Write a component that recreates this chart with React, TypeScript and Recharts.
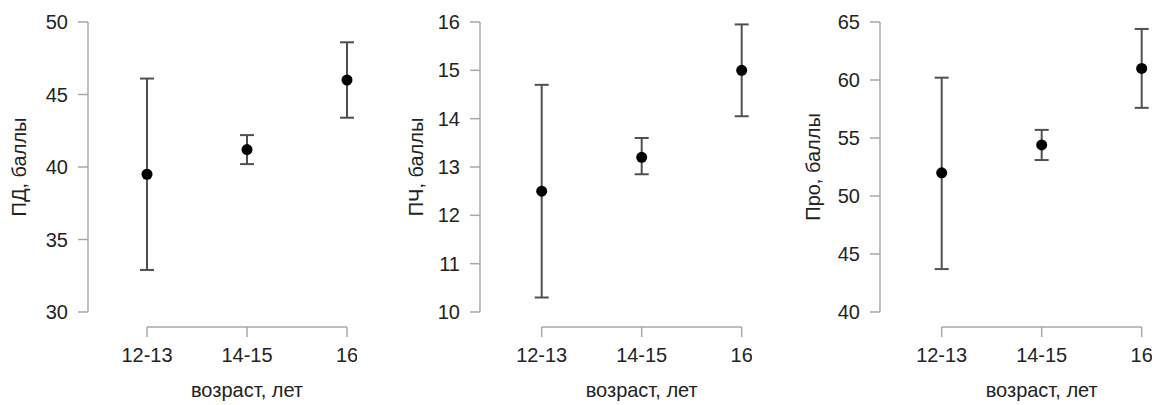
import React from 'react';
import { ScatterChart, Scatter, XAxis, YAxis, ErrorBar, ReferenceLine } from 'recharts';

const ageGroups = ['12-13', '14-15', '16'];
const xTitle = 'возраст, лет';

// ПД
const pdMean = [39.5, 41.2, 46.0];
const pdLow = [32.9, 40.2, 43.4];
const pdHigh = [46.1, 42.2, 48.6];
const pdTicks = [30, 35, 40, 45, 50];

// ПЧ
const pchMean = [12.5, 13.2, 15.0];
const pchLow = [10.3, 12.85, 14.05];
const pchHigh = [14.7, 13.6, 15.95];
const pchTicks = [10, 11, 12, 13, 14, 15, 16];

// Про
const proMean = [52.0, 54.4, 61.0];
const proLow = [43.7, 53.1, 57.6];
const proHigh = [60.2, 55.7, 64.4];
const proTicks = [40, 45, 50, 55, 60, 65];

const FONT = '"Liberation Sans", Arial, sans-serif';
const TEXT = '#222';
const AXIS = '#a8a8a8';
const BAR = '#505050';

const HEIGHT = 405;
const PLOT_TOP = 22;
const PLOT_BOTTOM = 312;
const PX_PER_CAT = 100;
const X_MAX = 2.1;

interface PanelProps {
  left: number;
  axisWidth: number;
  xMin: number;
  titleX: number;
  title: string;
  mean: number[];
  low: number[];
  high: number[];
  ticks: number[];
}

const XTick = (props: any) => {
  const { x, y, payload } = props;
  return (
    <g>
      <line x1={x} x2={x} y1={y + 15} y2={y + 25} stroke={AXIS} strokeWidth={1.5} />
      <text x={x} y={y + 50} textAnchor="middle" fill={TEXT} fontSize={20} fontFamily={FONT}>
        {ageGroups[payload.value]}
      </text>
    </g>
  );
};

const Dot = (props: any) => <circle cx={props.cx} cy={props.cy} r={5.5} fill="#000" />;

const Panel: React.FC<PanelProps> = ({ left, axisWidth, xMin, titleX, title, mean, low, high, ticks }) => {
  const data = ageGroups.map((g, i) => ({
    x: i,
    y: mean[i],
    err: [mean[i] - low[i], high[i] - mean[i]],
  }));
  const yMin = ticks[0];
  const yMax = ticks[ticks.length - 1];
  const width = axisWidth + PX_PER_CAT * (X_MAX - xMin);
  // R draws the x axis a little below the plot region
  const axisY = yMin - ((yMax - yMin) * 15) / (PLOT_BOTTOM - PLOT_TOP);
  const midY = (PLOT_TOP + PLOT_BOTTOM) / 2;

  return (
    <div style={{ position: 'absolute', left, top: 0 }}>
      <ScatterChart
        width={width}
        height={HEIGHT}
        margin={{ top: PLOT_TOP, right: 0, bottom: 0, left: 0 }}
      >
        <XAxis
          type="number"
          dataKey="x"
          domain={[xMin, X_MAX]}
          ticks={[0, 1, 2]}
          interval={0}
          axisLine={false}
          tickLine={false}
          tickSize={0}
          tickMargin={0}
          height={HEIGHT - PLOT_BOTTOM}
          tick={<XTick />}
          label={{
            content: (p: any) => {
              const vb = p.viewBox;
              const cx = vb.x + ((1 - xMin) / (X_MAX - xMin)) * vb.width;
              return (
                <text x={cx} y={vb.y + 85} textAnchor="middle" fill={TEXT} fontSize={20} fontFamily={FONT}>
                  {xTitle}
                </text>
              );
            },
          }}
        />
        <YAxis
          type="number"
          dataKey="y"
          domain={[yMin, yMax]}
          ticks={ticks}
          interval={0}
          width={axisWidth}
          tickSize={10}
          tickMargin={10}
          axisLine={{ stroke: AXIS, strokeWidth: 1.5 }}
          tickLine={{ stroke: AXIS, strokeWidth: 1.5 }}
          tick={{ fill: TEXT, fontSize: 20, fontFamily: FONT }}
          label={{
            content: () => (
              <text
                x={titleX}
                y={midY}
                dy="0.35em"
                textAnchor="middle"
                transform={`rotate(-90, ${titleX}, ${midY})`}
                fill={TEXT}
                fontSize={20}
                fontFamily={FONT}
              >
                {title}
              </text>
            ),
          }}
        />
        <ReferenceLine
          segment={[{ x: 0, y: axisY }, { x: 2, y: axisY }]}
          stroke={AXIS}
          strokeWidth={1.5}
          ifOverflow="visible"
        />
        <Scatter data={data} shape={<Dot />} isAnimationActive={false}>
          <ErrorBar dataKey="err" direction="y" width={7} stroke={BAR} strokeWidth={2} />
        </Scatter>
      </ScatterChart>
    </div>
  );
};

export default function App() {
  return (
    <div style={{ position: 'absolute', left: 0, top: 0, width: 1158, height: 405, background: '#fff', overflow: 'hidden' }}>
      <Panel left={0} axisWidth={88} xMin={-0.59} titleX={19} title="ПД, баллы" mean={pdMean} low={pdLow} high={pdHigh} ticks={pdTicks} />
      <Panel left={390} axisWidth={90} xMin={-0.617} titleX={26} title="ПЧ, баллы" mean={pchMean} low={pchLow} high={pchHigh} ticks={pchTicks} />
      <Panel left={770} axisWidth={110} xMin={-0.617} titleX={43} title="Про, баллы" mean={proMean} low={proLow} high={proHigh} ticks={proTicks} />
    </div>
  );
}
